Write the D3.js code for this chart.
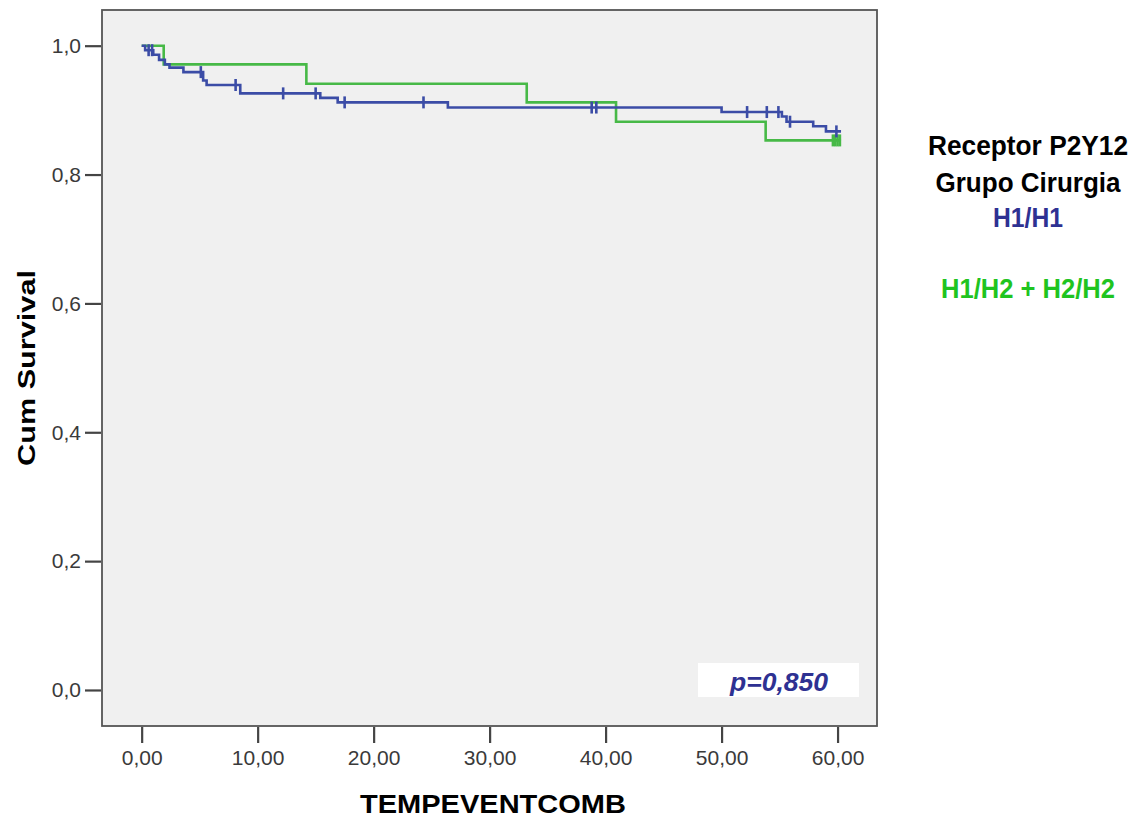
<!DOCTYPE html>
<html>
<head>
<meta charset="utf-8">
<script src="https://cdn.jsdelivr.net/npm/d3@7"></script>
<style>
  body { margin: 0; background: #fff; }
  svg text { font-family: "Liberation Sans", Arial, sans-serif; }
</style>
</head>
<body>
<div id="chart"></div>
<script>
// H1/H1 group (blue): event times and survival after each step
const blueTimes = [0.3, 1.0, 1.5, 2.0, 2.4, 3.6, 5.3, 5.6, 8.5, 15.4, 16.9, 26.4, 50.0, 55.2, 55.6, 57.9, 59.0];
const blueSurv  = [0.993, 0.986, 0.978, 0.971, 0.966, 0.959, 0.946, 0.939, 0.926, 0.919, 0.912, 0.904, 0.897, 0.890, 0.882, 0.875, 0.867];
const blueEnd = 60.3;
const blueCensorT = [0.6, 0.9, 5.1, 8.1, 12.2, 15.0, 17.5, 24.3, 38.8, 39.2, 52.2, 53.9, 54.9, 55.9, 59.9];
const blueCensorS = [0.993, 0.993, 0.959, 0.939, 0.926, 0.926, 0.912, 0.912, 0.904, 0.904, 0.897, 0.897, 0.897, 0.882, 0.867];

// H1/H2 + H2/H2 group (green)
const greenTimes = [1.9, 14.2, 33.2, 40.9, 53.8];
const greenSurv  = [0.971, 0.941, 0.912, 0.882, 0.853];
const greenEnd = 60.3;
const greenCensorT = [59.6, 59.8, 60.0, 60.2];
const greenCensorS = [0.853, 0.853, 0.853, 0.853];

const xTicks = [0, 10, 20, 30, 40, 50, 60];
const yTicks = [0, 0.2, 0.4, 0.6, 0.8, 1.0];
const legendTitle = ["Receptor P2Y12", "Grupo Cirurgia"];
const groupNames = ["H1/H1", "H1/H2 + H2/H2"];
const pValue = "p=0,850";

const W = 1143, H = 821;
const frame = {left: 102, right: 877, top: 10, bottom: 726};

const svg = d3.select("#chart").append("svg")
    .attr("width", W)
    .attr("height", H);

let x = d3.scaleLinear().domain([-3.42, 63.4]).range([frame.left, frame.right]);
let y = d3.scaleLinear().domain([-0.0559, 1.0554]).range([frame.bottom, frame.top]);

// plot background + frame
svg.append("rect")
    .attr("x", frame.left).attr("y", frame.top)
    .attr("width", frame.right - frame.left)
    .attr("height", frame.bottom - frame.top)
    .attr("fill", "#f0f0f0")
    .attr("stroke", "#555")
    .attr("stroke-width", 1.8);

// axes
let fmtX = d => d3.format(".2f")(d).replace(".", ",");
let fmtY = d => d3.format(".1f")(d).replace(".", ",");

let gx = svg.append("g")
    .attr("transform", `translate(0,${frame.bottom + 1})`)
    .call(d3.axisBottom(x).tickValues(xTicks).tickSize(16).tickPadding(7).tickFormat(fmtX));
gx.select(".domain").remove();

let gy = svg.append("g")
    .attr("transform", `translate(${frame.left - 1},0)`)
    .call(d3.axisLeft(y).tickValues(yTicks).tickSize(16).tickPadding(4).tickFormat(fmtY));
gy.select(".domain").remove();

svg.selectAll(".tick line").attr("stroke", "#444").attr("stroke-width", 2.2);
svg.selectAll(".tick text")
    .attr("font-size", 21)
    .attr("font-family", "Liberation Sans, Arial, sans-serif")
    .attr("fill", "#3a3a3a");

// axis titles
svg.append("text")
    .attr("x", 493).attr("y", 813)
    .attr("text-anchor", "middle")
    .attr("font-size", 25)
    .attr("font-weight", "bold")
    .attr("textLength", 266)
    .attr("lengthAdjust", "spacingAndGlyphs")
    .text("TEMPEVENTCOMB");

svg.append("text")
    .attr("transform", "translate(35,368) rotate(-90)")
    .attr("text-anchor", "middle")
    .attr("font-size", 23)
    .attr("font-weight", "bold")
    .attr("textLength", 196)
    .attr("lengthAdjust", "spacingAndGlyphs")
    .text("Cum Survival");

// survival step curves
function stepPoints(times, surv, endT) {
    let pts = [[0, 1]];
    times.forEach((t, i) => pts.push([t, surv[i]]));
    pts.push([endT, surv[surv.length - 1]]);
    return pts;
}

let line = d3.line()
    .x(d => x(d[0]))
    .y(d => y(d[1]))
    .curve(d3.curveStepAfter);

const groups = [
    {times: greenTimes, surv: greenSurv, end: greenEnd, ct: greenCensorT, cs: greenCensorS, color: "#47b947"},
    {times: blueTimes, surv: blueSurv, end: blueEnd, ct: blueCensorT, cs: blueCensorS, color: "#3b4ca6"}
];

groups.forEach(g => {
    svg.append("path")
        .attr("d", line(stepPoints(g.times, g.surv, g.end)))
        .attr("fill", "none")
        .attr("stroke", g.color)
        .attr("stroke-width", 2.6);

    svg.append("g").selectAll("line")
        .data(g.ct.map((t, i) => [t, g.cs[i]]))
        .enter()
        .append("line")
        .attr("x1", d => x(d[0])).attr("x2", d => x(d[0]))
        .attr("y1", d => y(d[1]) - 6).attr("y2", d => y(d[1]) + 6)
        .attr("stroke", g.color)
        .attr("stroke-width", 2.6);
});

// p-value box
svg.append("rect")
    .attr("x", 698).attr("y", 663)
    .attr("width", 161).attr("height", 34)
    .attr("fill", "#fff");
svg.append("text")
    .attr("x", 779).attr("y", 691)
    .attr("text-anchor", "middle")
    .attr("font-size", 26)
    .attr("font-weight", "bold")
    .attr("font-style", "italic")
    .attr("fill", "#2e3192")
    .attr("textLength", 98)
    .attr("lengthAdjust", "spacingAndGlyphs")
    .text(pValue);

// legend
const legendRows = [
    {text: legendTitle[0], y: 155, w: 200, color: "#000"},
    {text: legendTitle[1], y: 192, w: 185, color: "#000"},
    {text: groupNames[0], y: 227, w: 70, color: "#2e3192"},
    {text: groupNames[1], y: 298, w: 174, color: "#1fc41f"}
];
svg.append("g").selectAll("text")
    .data(legendRows)
    .enter()
    .append("text")
    .attr("x", 1028)
    .attr("y", d => d.y)
    .attr("text-anchor", "middle")
    .attr("font-size", 27)
    .attr("font-weight", "bold")
    .attr("fill", d => d.color)
    .attr("textLength", d => d.w)
    .attr("lengthAdjust", "spacingAndGlyphs")
    .text(d => d.text);
</script>
</body>
</html>
